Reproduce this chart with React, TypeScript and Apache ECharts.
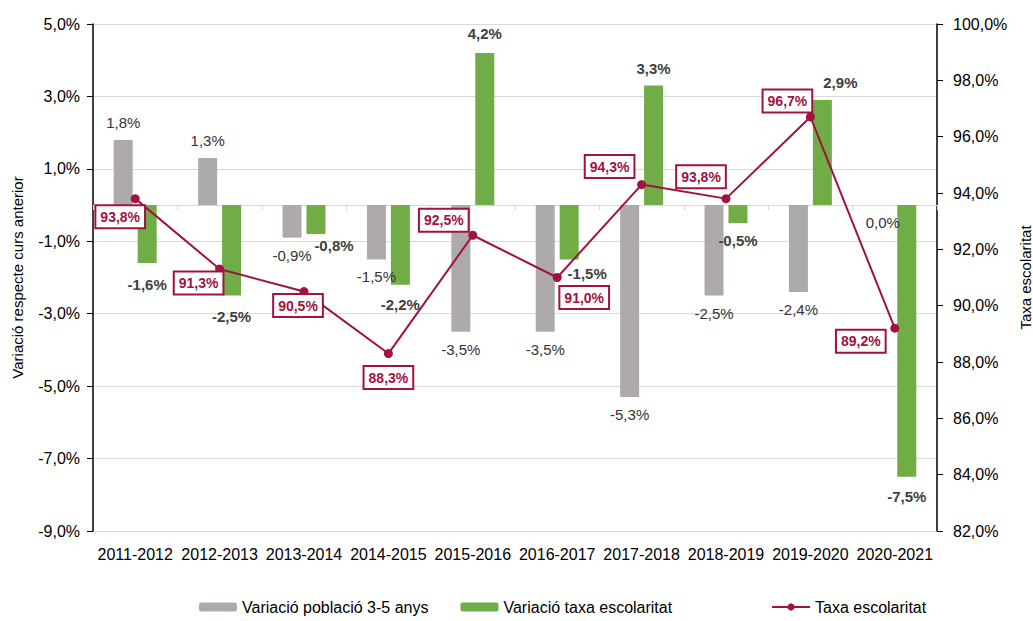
import React, { useEffect, useRef } from "react";
import * as echarts from "echarts";

const categories = ["2011-2012", "2012-2013", "2013-2014", "2014-2015", "2015-2016", "2016-2017", "2017-2018", "2018-2019", "2019-2020", "2020-2021"];
const populationChange = [1.8, 1.3, -0.9, -1.5, -3.5, -3.5, -5.3, -2.5, -2.4, 0.0];
const rateChange = [-1.6, -2.5, -0.8, -2.2, 4.2, -1.5, 3.3, -0.5, 2.9, -7.5];
const schoolingRate = [93.8, 91.3, 90.5, 88.3, 92.5, 91.0, 94.3, 93.8, 96.7, 89.2];

// label placement tweaks (styles, not data)
const rateLabelOffsets = [[0, 4], [0, 3], [18, -6], [0, 2], [0, -2], [18, -3], [0, 0], [0, 0], [18, 0], [0, 2]];
const lineLabelOffsets = [[-15, 18], [-21, 14], [-6, 14], [0, 24], [-29, -15], [27, 20], [-32, -18], [-25, -22], [-23, -16], [-34, 13]];

const RED = "#A0123F";
const GRAY = "#AEAAAA";
const GREEN = "#70AD47";
const FONT = "Liberation Sans";

const pct = (v: number) => v.toFixed(1).replace(".", ",") + "%";

export default function App() {
  const ref = useRef<HTMLDivElement>(null);
  useEffect(() => {
    const chart = echarts.init(ref.current!, null, { renderer: "svg" });
    const legendBase = {
      top: 594,
      itemWidth: 38,
      itemHeight: 9,
      itemGap: 32,
      textStyle: { fontSize: 16, color: "#000", fontFamily: FONT },
    };
    chart.setOption({
      animation: false,
      textStyle: { fontFamily: FONT },
      grid: { left: 93, right: 96, top: 24, bottom: 90, outerBoundsMode: "none", containLabel: false },
      legend: [
        { ...legendBase, left: 194, data: ["Variació població 3-5 anys", "Variació taxa escolaritat"] },
        { ...legendBase, left: 766, data: ["Taxa escolaritat"] },
      ],
      xAxis: [
        {
          type: "category",
          data: categories,
          position: "bottom",
          axisLine: { show: false, onZero: false },
          axisTick: { show: false },
          axisLabel: { fontSize: 16, color: "#000", margin: 15, interval: 0 },
        },
        {
          type: "category",
          data: categories,
          position: "top",
          axisLine: { show: true, onZero: true, onZeroAxisIndex: 0, lineStyle: { color: "#d9d9d9", width: 1 } },
          axisTick: { show: true, inside: true, length: 5, lineStyle: { color: "#d9d9d9" } },
          axisLabel: { show: false },
        },
      ],
      yAxis: [
        {
          type: "value",
          min: -9,
          max: 5,
          interval: 2,
          position: "left",
          name: "Variació respecte curs anterior",
          nameLocation: "middle",
          nameGap: 68,
          nameTextStyle: { fontSize: 15, color: "#000" },
          axisLine: { show: true, lineStyle: { color: "#000", width: 1.5 } },
          axisTick: { show: true, length: 6, lineStyle: { color: "#000" } },
          axisLabel: { fontSize: 16, color: "#000", margin: 13, formatter: (v: number) => pct(v) },
          splitLine: { show: true, lineStyle: { color: "#d9d9d9", width: 1 } },
        },
        {
          type: "value",
          min: 82,
          max: 100,
          interval: 2,
          position: "right",
          name: "Taxa escolaritat",
          nameLocation: "middle",
          nameRotate: 90,
          nameGap: 80,
          nameTextStyle: { fontSize: 15, color: "#000", verticalAlign: "top" },
          axisLine: { show: true, lineStyle: { color: "#000", width: 1.5 } },
          axisTick: { show: true, length: 6, lineStyle: { color: "#000" } },
          axisLabel: { fontSize: 16, color: "#000", margin: 16, formatter: (v: number) => pct(v) },
          splitLine: { show: false },
        },
      ],
      series: [
        {
          name: "Variació població 3-5 anys",
          type: "bar",
          xAxisIndex: 0,
          yAxisIndex: 0,
          barWidth: 19,
          barGap: "26%",
          itemStyle: { color: GRAY },
          data: populationChange.map((v) => ({ value: v, label: { position: v > 0 ? "top" : "bottom" } })),
          label: {
            show: true,
            distance: 10,
            fontSize: 15,
            color: "#333333",
            formatter: (p: any) => pct(p.value),
          },
        },
        {
          name: "Variació taxa escolaritat",
          type: "bar",
          xAxisIndex: 0,
          yAxisIndex: 0,
          barWidth: 19,
          barGap: "26%",
          itemStyle: { color: GREEN },
          data: rateChange.map((v, i) => ({
            value: v,
            label: { position: v > 0 ? "top" : "bottom", offset: rateLabelOffsets[i] },
          })),
          label: {
            show: true,
            distance: 10,
            fontSize: 15,
            fontWeight: "bold",
            color: "#404040",
            formatter: (p: any) => pct(p.value),
          },
        },
        {
          name: "Taxa escolaritat",
          type: "line",
          xAxisIndex: 0,
          yAxisIndex: 1,
          symbol: "circle",
          symbolSize: 9,
          z: 5,
          itemStyle: { color: RED },
          lineStyle: { color: RED, width: 2 },
          data: schoolingRate.map((v, i) => ({ value: v, label: { offset: lineLabelOffsets[i] } })),
          label: {
            show: true,
            position: "inside",
            fontSize: 14,
            fontWeight: "bold",
            color: RED,
            backgroundColor: "#fff",
            borderColor: RED,
            borderWidth: 2,
            padding: [4, 4, 3, 4],
            formatter: (p: any) => pct(p.value),
          },
        },
      ],
    });
    return () => chart.dispose();
  }, []);
  return <div ref={ref} style={{ position: "absolute", left: 0, top: 0, width: 1033, height: 621 }} />;
}
